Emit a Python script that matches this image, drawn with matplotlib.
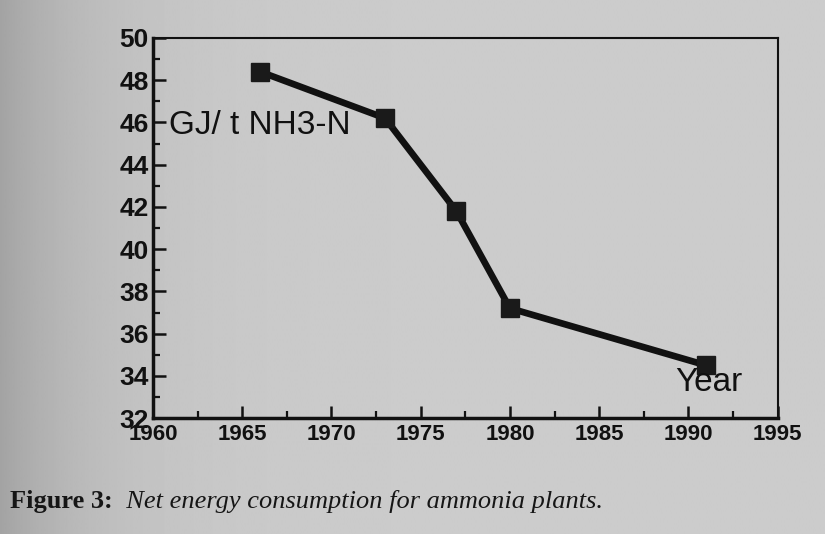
import numpy as np
import matplotlib
matplotlib.use("Agg")
from matplotlib import pyplot as plt
from matplotlib.ticker import MultipleLocator

years = [1966, 1973, 1977, 1980, 1991]
energy = [48.4, 46.2, 41.8, 37.2, 34.5]

x_ticks = [1960, 1965, 1970, 1975, 1980, 1985, 1990, 1995]
y_ticks = [32, 34, 36, 38, 40, 42, 44, 46, 48, 50]

PAPER = "#c6c6c6"
INK = "#111111"


def main():
  fig = plt.figure(figsize=(8.25, 5.34), dpi=100, facecolor=PAPER)

  # paper shading, darker towards the left edge of the photo
  bg = fig.add_axes([0, 0, 1, 1], zorder=-10)
  t = np.linspace(0, 1, 512)
  shade = 0.64 + 0.16 * (1 - np.exp(-t / 0.12))
  bg.imshow(shade[np.newaxis, :], cmap="gray", vmin=0, vmax=1,
            aspect="auto", extent=[0, 1, 0, 1], interpolation="bilinear")
  bg.axis("off")

  ax = fig.add_axes([0.1855, 0.217, 0.757, 0.712])
  ax.patch.set_alpha(0)

  ax.plot(years, energy, color=INK, lw=4.8, marker="s", ms=13.5,
          mfc="#1a1a1a", mec="#1a1a1a", solid_joinstyle="miter")

  ax.set_xlim(1960, 1995)
  ax.set_ylim(32, 50)
  ax.set_xticks(x_ticks)
  ax.set_yticks(y_ticks)
  ax.xaxis.set_minor_locator(MultipleLocator(2.5))
  ax.yaxis.set_minor_locator(MultipleLocator(1))
  ax.tick_params(which="major", direction="in", length=9, width=1.8,
                 color=INK)
  ax.tick_params(which="minor", direction="in", length=5, width=1.6,
                 color=INK)
  ax.tick_params(axis="x", labelsize=16, pad=4)
  ax.tick_params(axis="y", labelsize=19, pad=3)
  for lab in ax.get_xticklabels() + ax.get_yticklabels():
    lab.set_fontweight("bold")
    lab.set_fontfamily("Liberation Sans")
    lab.set_color(INK)

  for side in ["left", "bottom"]:
    ax.spines[side].set_linewidth(2.5)
  for side in ["top", "right"]:
    ax.spines[side].set_linewidth(1.5)
  for sp in ax.spines.values():
    sp.set_color(INK)

  ax.text(0.025, 0.77, "GJ/ t NH3-N", transform=ax.transAxes,
          fontsize=24, family="Liberation Sans", color=INK,
          va="center", ha="left")
  ax.text(0.89, 0.095, "Year", transform=ax.transAxes,
          fontsize=24, family="Liberation Sans", color=INK,
          va="center", ha="center")

  # caption: bold label followed by italic text on one baseline
  renderer = fig.canvas.get_renderer()
  x0, y0 = 10, 26
  parts = [("Figure 3", "bold", "normal"), (":", "bold", "normal"),
           ("  Net energy consumption for ammonia plants.", "normal", "italic")]
  for txt, weight, style in parts:
    t = fig.text(x0 / 825, y0 / 534, txt, fontsize=19, fontweight=weight,
                 style=style, family="Liberation Serif", color="#161616",
                 va="baseline")
    x0 += t.get_window_extent(renderer).width

  fig.savefig("out.png", dpi=100, facecolor=fig.get_facecolor())


if __name__ == "__main__":
  main()
